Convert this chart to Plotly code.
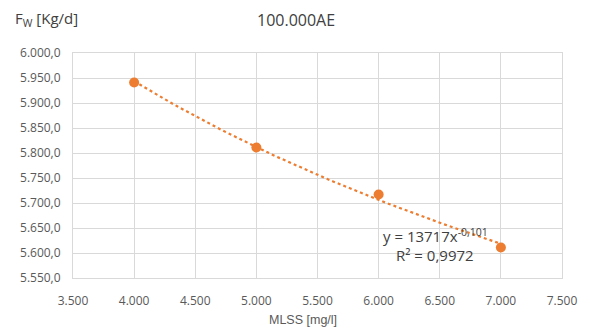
import numpy as np
import plotly.graph_objects as go

mlss = [4000, 5000, 6000, 7000]
fw = [5941, 5811, 5717, 5611]
title_text = "100.000AE"
eq_text = "y = 13717x<sup>-0,101</sup>"
r2_text = "R² = 0,9972"

# power-law trendline fitted from the data (log-log least squares)
b, lna = np.polyfit(np.log(mlss), np.log(fw), 1)
xs = np.linspace(min(mlss), max(mlss), 60)
ys = np.exp(lna) * xs ** b

orange = "#ED7D31"
grid = "#D9D9D9"
font = "Open Sans"

fig = go.Figure()
fig.add_trace(go.Scatter(x=xs, y=ys, mode="lines",
                         line=dict(color=orange, width=2.2, dash="dot"),
                         hoverinfo="skip", showlegend=False))
fig.add_trace(go.Scatter(x=mlss, y=fw, mode="markers",
                         marker=dict(color=orange, size=10), showlegend=False))

fig.update_layout(
    width=589, height=327,
    margin=dict(l=73, r=24, t=53, b=49),
    paper_bgcolor="white", plot_bgcolor="white",
    separators=",.",
    font=dict(family=font, size=12, color="#595959"),
    showlegend=False,
)
fig.update_xaxes(range=[3500, 7500], dtick=500, tick0=3500, tickformat=",d",
                 showgrid=True, gridcolor=grid, gridwidth=1,
                 showline=True, linecolor=grid, mirror=True,
                 zeroline=False, ticks="", ticklabelstandoff=12,
                 tickfont=dict(family=font, size=12, color="#595959"))
fig.update_yaxes(range=[5550, 6000], dtick=50, tick0=5550, tickformat=",.1f",
                 showgrid=True, gridcolor=grid, gridwidth=1,
                 showline=True, linecolor=grid, mirror=True,
                 zeroline=False, ticks="", ticklabelstandoff=9,
                 tickfont=dict(family=font, size=12, color="#595959"))

fig.add_annotation(text=title_text, xref="paper", yref="paper",
                   x=(297 - 73) / 492, y=1 + (53 - 20) / 225,
                   xanchor="center", yanchor="middle", showarrow=False,
                   font=dict(family=font, size=16, color="#404040"))
fig.add_annotation(text="F<sub>W</sub> [Kg/d]", xref="paper", yref="paper",
                   x=(13 - 73) / 492, y=1 + (53 - 19) / 225,
                   xanchor="left", yanchor="middle", showarrow=False,
                   font=dict(family=font, size=15, color="#404040"))
fig.add_annotation(text="MLSS [mg/l]", xref="paper", yref="paper",
                   x=(304 - 73) / 492, y=-(320 - 278) / 225,
                   xanchor="center", yanchor="middle", showarrow=False,
                   font=dict(family="Liberation Sans", size=12.5, color="#595959"))
fig.add_annotation(text=eq_text, xref="paper", yref="paper",
                   x=(438 - 73) / 492, y=1 - (235 - 53) / 225,
                   xanchor="center", yanchor="middle", showarrow=False,
                   font=dict(family=font, size=15, color="#404040"))
fig.add_annotation(text=r2_text, xref="paper", yref="paper",
                   x=(437 - 73) / 492, y=1 - (255 - 53) / 225,
                   xanchor="center", yanchor="middle", showarrow=False,
                   font=dict(family=font, size=15, color="#404040"))

fig.write_html("out.html")
